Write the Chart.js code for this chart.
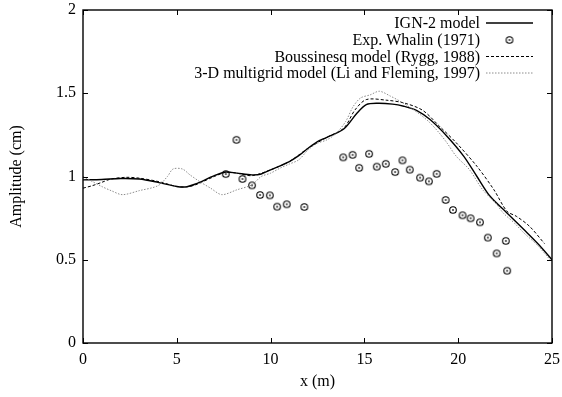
<!DOCTYPE html>
<html>
<head>
<meta charset="utf-8">
<script src="https://cdn.jsdelivr.net/npm/chart.js@4"></script>
<style>
  html, body { margin: 0; padding: 0; background: #fff; }
  #wrap { width: 562px; height: 397px; position: relative; }
</style>
</head>
<body>
<div id="wrap"><canvas id="grafico"></canvas></div>
<script>
// ---- datos ----
const xTicks = [0, 5, 10, 15, 20, 25];
const yTicks = [0, 0.5, 1, 1.5, 2];

// IGN-2 model (linea continua)
const ignX = [0, 1, 2, 3, 4, 5, 5.5, 6, 7, 7.6, 8.2, 9, 9.5, 10, 11, 11.5, 12, 12.5, 13, 13.9, 14.6, 15.1, 15.7, 16.5, 17.1, 17.8, 18.5, 19.4, 20.3, 21, 21.7, 22.6, 23.5, 24.3, 25];
const ignY = [0.98, 0.982, 0.988, 0.985, 0.965, 0.94, 0.938, 0.955, 1.005, 1.027, 1.02, 1.01, 1.015, 1.04, 1.09, 1.125, 1.17, 1.21, 1.235, 1.285, 1.38, 1.432, 1.44, 1.435, 1.422, 1.396, 1.342, 1.242, 1.121, 1.0, 0.881, 0.781, 0.681, 0.59, 0.5];

// Exp. Whalin (1971)
const whalinX = [7.61, 8.18, 8.5, 9.01, 9.44, 9.96, 10.35, 10.86, 11.8, 13.87, 14.37, 14.72, 15.25, 15.66, 16.14, 16.64, 17.03, 17.42, 17.97, 18.44, 18.85, 19.33, 19.72, 20.23, 20.66, 21.16, 21.58, 22.05, 22.54, 22.61];
const whalinY = [1.015, 1.22, 0.985, 0.947, 0.889, 0.887, 0.819, 0.833, 0.817, 1.115, 1.13, 1.052, 1.136, 1.059, 1.076, 1.027, 1.097, 1.041, 0.993, 0.971, 1.016, 0.859, 0.799, 0.767, 0.749, 0.725, 0.633, 0.538, 0.613, 0.434];

// Boussinesq model (Rygg, 1988)
const bousX = [0, 0.5, 1, 1.5, 2.3, 3, 4, 5, 5.5, 6, 7, 7.6, 8.2, 9, 10, 11, 12, 13, 13.9, 14.5, 15.1, 16.2, 17.1, 18.1, 19, 19.9, 21, 21.9, 22.6, 23.1, 23.8, 24.6];
const bousY = [0.93, 0.945, 0.965, 0.985, 0.995, 0.99, 0.97, 0.94, 0.937, 0.95, 1.0, 1.025, 1.02, 1.005, 1.04, 1.09, 1.17, 1.235, 1.29, 1.4, 1.462, 1.458, 1.442, 1.398, 1.302, 1.202, 1.061, 0.921, 0.791, 0.761, 0.701, 0.597];

// 3-D multigrid model (Li and Fleming, 1997)
const mgX = [0, 0.5, 1, 1.5, 2.1, 3, 4, 4.5, 4.8, 5.3, 5.7, 6.2, 6.8, 7.4, 8.2, 9, 9.5, 10, 10.5, 11, 11.5, 12, 12.5, 13, 13.5, 14, 14.4, 14.8, 15.3, 15.8, 16.4, 16.9, 17.5, 18, 18.5, 19, 19.4, 19.9, 20.6, 21.3, 22, 22.4, 23, 23.5, 24.2, 24.9];
const mgY = [1.0, 0.97, 0.94, 0.915, 0.891, 0.915, 0.945, 1.0, 1.045, 1.045, 1.01, 0.971, 0.93, 0.891, 0.92, 0.95, 1.0, 1.02, 1.05, 1.075, 1.1, 1.16, 1.2, 1.22, 1.26, 1.33, 1.42, 1.472, 1.49, 1.512, 1.482, 1.452, 1.41, 1.37, 1.322, 1.26, 1.202, 1.121, 1.041, 0.921, 0.84, 0.781, 0.72, 0.661, 0.59, 0.5];

const etiquetas = ['IGN-2 model', 'Exp. Whalin (1971)', 'Boussinesq model (Rygg, 1988)', '3-D multigrid model (Li and Fleming, 1997)'];

const FUENTE = "'Liberation Serif', 'DejaVu Serif', serif";
const GRIS = '#8c8c8c';

function pares(xs, ys) {
  return xs.map((x, i) => ({ x: x, y: ys[i] }));
}

// marcador: circulo con punto central
function crearMarcador() {
  const c = document.createElement('canvas');
  c.width = 10; c.height = 10;
  const g = c.getContext('2d');
  g.strokeStyle = '#000';
  g.lineWidth = 1.1;
  g.beginPath(); g.arc(5, 5, 3.3, 0, Math.PI * 2); g.stroke();
  g.fillStyle = '#222';
  g.beginPath(); g.arc(5, 5, 0.9, 0, Math.PI * 2); g.fill();
  return c;
}
const marcador = crearMarcador();

// marco y ticks hacia dentro (estilo gnuplot)
const marcoPlugin = {
  id: 'marco',
  afterDraw(chart) {
    const { ctx, chartArea: a, scales } = chart;
    ctx.save();
    ctx.strokeStyle = '#000';
    ctx.lineWidth = 1.4;
    ctx.strokeRect(a.left, a.top, a.right - a.left, a.bottom - a.top);
    ctx.lineWidth = 1;
    const L = 5;
    ctx.beginPath();
    xTicks.forEach(v => {
      const px = Math.round(scales.x.getPixelForValue(v)) + 0.5;
      ctx.moveTo(px, a.bottom); ctx.lineTo(px, a.bottom - L);
      ctx.moveTo(px, a.top); ctx.lineTo(px, a.top + L);
    });
    yTicks.forEach(v => {
      const py = Math.round(scales.y.getPixelForValue(v)) + 0.5;
      ctx.moveTo(a.left, py); ctx.lineTo(a.left + L, py);
      ctx.moveTo(a.right, py); ctx.lineTo(a.right - L, py);
    });
    ctx.stroke();
    ctx.restore();
  }
};

// leyenda a la derecha, texto alineado a la derecha
const leyendaPlugin = {
  id: 'leyendaGnuplot',
  afterDatasetsDraw(chart) {
    const ctx = chart.ctx;
    const filas = [23, 40, 56.5, 73];
    const xTexto = 480, x0 = 486, x1 = 533;
    ctx.save();
    ctx.font = '16px ' + FUENTE;
    ctx.fillStyle = '#000';
    ctx.textAlign = 'right';
    ctx.textBaseline = 'middle';
    etiquetas.forEach((t, i) => ctx.fillText(t, xTexto, filas[i] + 1));

    ctx.strokeStyle = '#000';
    ctx.lineWidth = 1.4;
    ctx.beginPath(); ctx.moveTo(x0, filas[0]); ctx.lineTo(x1, filas[0]); ctx.stroke();

    ctx.drawImage(marcador, (x0 + x1) / 2 - 5, filas[1] - 5);

    ctx.lineWidth = 1;
    ctx.setLineDash([3, 2]);
    ctx.beginPath(); ctx.moveTo(x0, filas[2]); ctx.lineTo(x1, filas[2]); ctx.stroke();

    ctx.strokeStyle = GRIS;
    ctx.setLineDash([1.5, 1.5]);
    ctx.beginPath(); ctx.moveTo(x0, filas[3]); ctx.lineTo(x1, filas[3]); ctx.stroke();
    ctx.restore();
  }
};

new Chart(document.getElementById('grafico'), {
  type: 'scatter',
  data: {
    datasets: [
      {
        label: etiquetas[3],
        data: pares(mgX, mgY),
        showLine: true,
        borderColor: GRIS,
        borderWidth: 1,
        borderDash: [1.5, 1.5],
        tension: 0.3,
        pointRadius: 0
      },
      {
        label: etiquetas[2],
        data: pares(bousX, bousY),
        showLine: true,
        borderColor: '#000',
        borderWidth: 1,
        borderDash: [3, 2],
        tension: 0.3,
        pointRadius: 0
      },
      {
        label: etiquetas[0],
        data: pares(ignX, ignY),
        showLine: true,
        borderColor: '#000',
        borderWidth: 1.4,
        tension: 0.3,
        pointRadius: 0
      },
      {
        label: etiquetas[1],
        data: pares(whalinX, whalinY),
        showLine: false,
        pointStyle: marcador,
        pointRadius: 4
      }
    ]
  },
  options: {
    responsive: true,
    maintainAspectRatio: false,
    animation: false,
    layout: { padding: { left: 7, right: 10, top: 10, bottom: 6 } },
    plugins: { legend: { display: false }, tooltip: { enabled: false } },
    scales: {
      x: {
        type: 'linear',
        min: 0, max: 25,
        afterBuildTicks: s => { s.ticks = xTicks.map(v => ({ value: v })); },
        grid: { display: false, drawTicks: false, tickLength: 0 },
        border: { display: false },
        ticks: { color: '#000', font: { family: FUENTE, size: 16 }, padding: 7, maxRotation: 0 },
        title: { display: true, text: 'x (m)', color: '#000', font: { family: FUENTE, size: 16 }, padding: 0 },
        afterFit: s => { s.height = 397 - 343 - 6; s.paddingLeft = 0; s.paddingRight = 0; }
      },
      y: {
        type: 'linear',
        min: 0, max: 2,
        afterBuildTicks: s => { s.ticks = yTicks.map(v => ({ value: v })); },
        grid: { display: false, drawTicks: false, tickLength: 0 },
        border: { display: false },
        ticks: { color: '#000', font: { family: FUENTE, size: 16 }, padding: 7, callback: v => String(v) },
        title: { display: true, text: 'Amplitude (cm)', color: '#000', font: { family: FUENTE, size: 16 }, padding: 0 },
        afterFit: s => { s.width = 83 - 7; s.paddingTop = 0; s.paddingBottom = 0; }
      }
    }
  },
  plugins: [marcoPlugin, leyendaPlugin]
});
</script>
</body>
</html>
